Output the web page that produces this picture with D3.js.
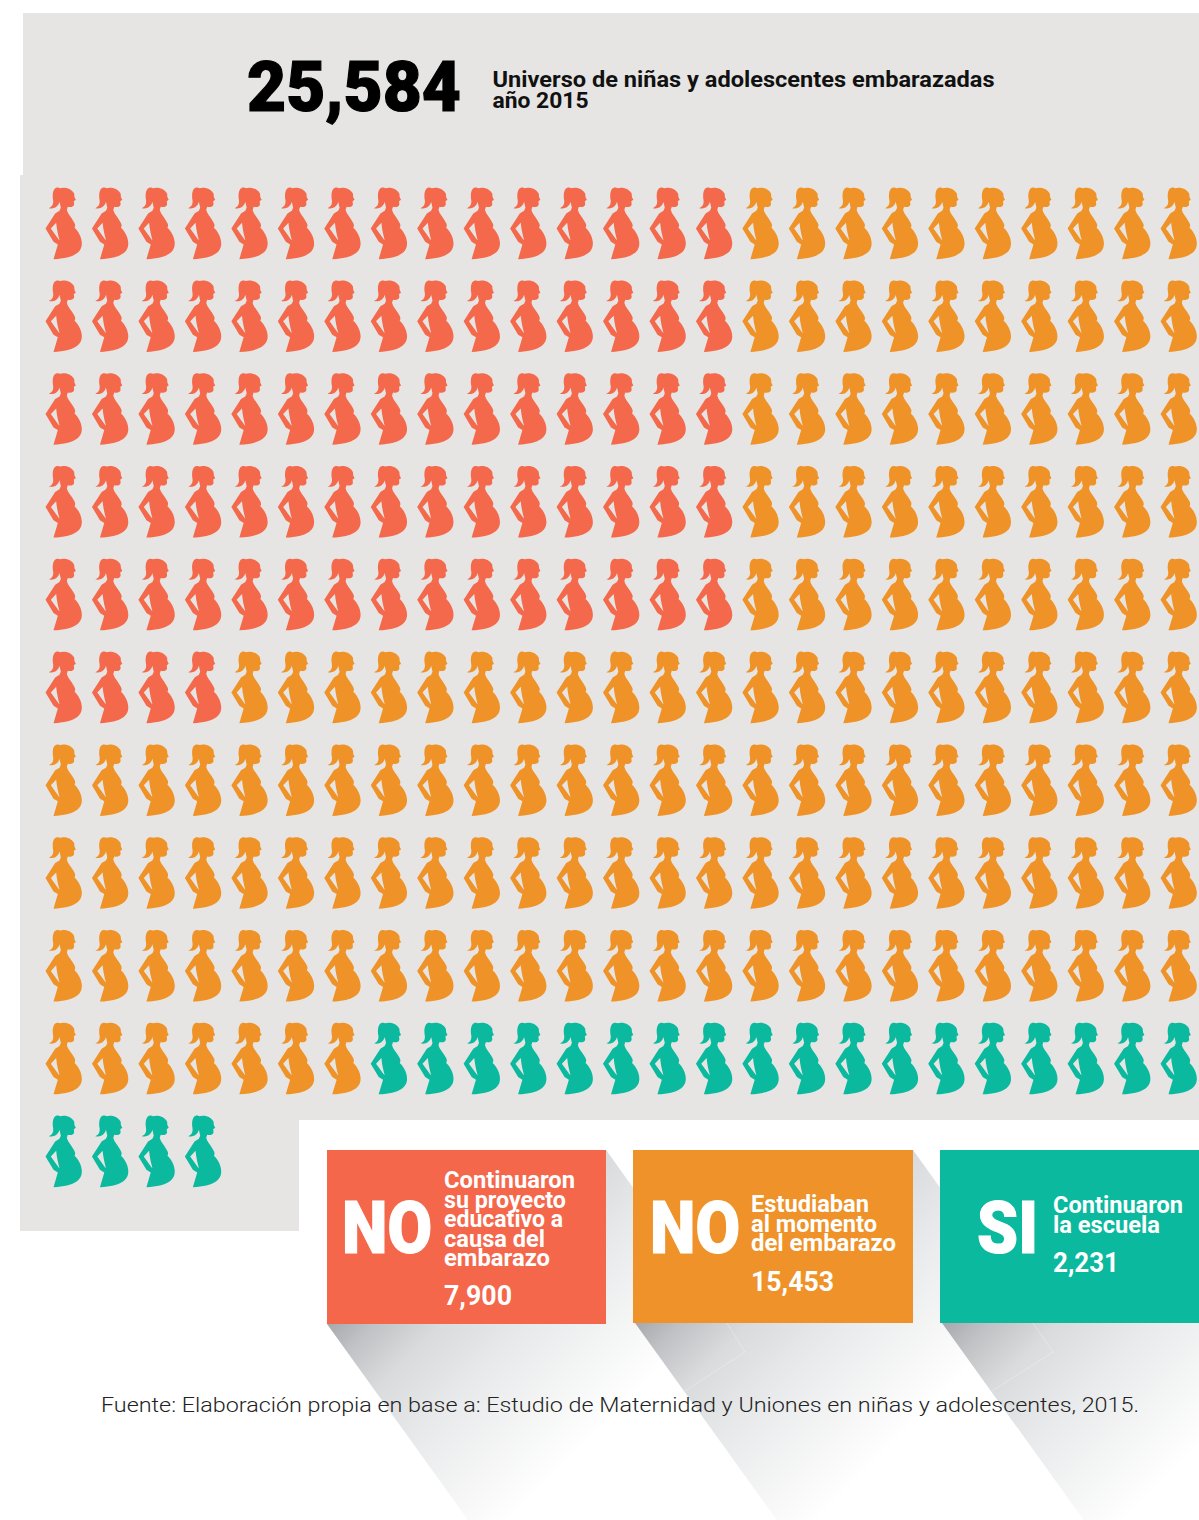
<!DOCTYPE html>
<html>
<head>
<meta charset="utf-8">
<style>
  html, body { margin: 0; padding: 0; background: #fff; }
  svg { display: block; }
  text { font-family: Roboto, sans-serif; }
</style>
<script src="https://cdnjs.cloudflare.com/ajax/libs/d3/7.8.5/d3.min.js"></script>
</head>
<body>
<div id="chart"></div>
<script>
// icons per row of the pictogram
var noContinuaron = [15, 15, 15, 15, 15, 4, 0, 0, 0, 0, 0];
var noEstudiaban = [10, 10, 10, 10, 10, 21, 25, 25, 25, 7, 0];
var siContinuaron = [0, 0, 0, 0, 0, 0, 0, 0, 0, 18, 4];
var seriesNames = ["noContinuaron", "noEstudiaban", "siContinuaron"];
var seriesColors = ["#f4694b", "#ef9328", "#0ab99e"];
var cardColors = ["#f4674b", "#ee9229", "#0ab99e"];
var cardWords = ["NO", "NO", "SI"];
var cardLines = [
  ["Continuaron", "su proyecto", "educativo a", "causa del", "embarazo"],
  ["Estudiaban", "al momento", "del embarazo"],
  ["Continuaron", "la escuela"]
];
var cardValues = ["7,900", "15,453", "2,231"];
var totalLabel = "25,584";
var totalLines = ["Universo de niñas y adolescentes embarazadas", "año 2015"];
var sourceNote = "Fuente: Elaboración propia en base a: Estudio de Maternidad y Uniones en niñas y adolescentes, 2015.";

var width = 1199, height = 1520;
var svg = d3.select("#chart").append("svg").attr("width", width).attr("height", height);
var defs = svg.append("defs");

// silhouette, drawn 3x and scaled down in the join
var womanPath = "M26 6C30 0 38 -1 44 2C54 -2 78 1 86 18L87 29L91 37L85 41L86 51C84 58 76 60 67 58L64 67" +
  "C66 78 76 88 82 98C87 106 92 113 87 121C100 133 109 151 109 168C109 193 89 212 24 215" +
  "L37 171L24 163L0 123L29 78L42 70L46 61L42 43C39 55 29 66 10 62C20 58 26 51 22 33" +
  "C21 22 22 12 26 6Z M16 123L32 106C34 128 38 143 42 158L39 155Z";

// grey panel behind everything
var panel = [[23, 13], [1199, 13], [1199, 1120], [299, 1120], [299, 1231], [20, 1231], [20, 175], [23, 175]];
svg.append("path").attr("d", d3.line()(panel) + "Z").attr("fill", "#e6e5e3");

function fitText(sel, len) {
  // the DIN of the original is narrower, so squeeze each line to its measured width
  return sel.attr("textLength", len).attr("lengthAdjust", "spacingAndGlyphs");
}

// header
fitText(svg.append("text").attr("x", 247).attr("y", 110.5).attr("font-size", 71).attr("font-weight", 900)
  .attr("fill", "#000").attr("stroke", "#000").attr("stroke-width", 1.2).text(totalLabel), 214);
var totalWidths = [502, 96], totalBase = [87, 108];
totalLines.forEach(function (line, i) {
  fitText(svg.append("text").attr("x", 492.5).attr("y", totalBase[i]).attr("font-size", 22).attr("font-weight", 700).attr("fill", "#111").text(line), totalWidths[i]);
});

// pictogram
var rows = d3.range(noContinuaron.length);
var x = d3.scalePoint().domain(d3.range(25)).range([45.5, 1160.5]);
var y = d3.scalePoint().domain(rows).range([187.5, 1115.5]);

var cells = [];
rows.forEach(function (r) {
  var counts = [noContinuaron[r], noEstudiaban[r], siContinuaron[r]];
  var col = 0;
  counts.forEach(function (n, s) {
    d3.range(n).forEach(function () {
      cells.push({ row: r, col: col, series: seriesNames[s] });
      col++;
    });
  });
});
var color = d3.scaleOrdinal().domain(seriesNames).range(seriesColors);

svg.append("g").selectAll("path")
  .data(cells)
  .join("path")
  .attr("d", womanPath)
  .attr("fill-rule", "evenodd")
  .attr("fill", function (d) { return color(d.series); })
  .attr("transform", function (d) { return "translate(" + x(d.col) + "," + y(d.row) + ") scale(0.3333)"; });

// long shadows under the cards
var cardX = [327, 633, 940], cardW = [279, 280, 259], cardBottom = [1324, 1323, 1323];
var shadeStart = [327, 635, 942];
var slope = 1.39;
cardX.forEach(function (cx, i) {
  var sx = shadeStart[i];
  var grad = defs.append("linearGradient").attr("id", "shade" + i)
    .attr("gradientUnits", "userSpaceOnUse")
    .attr("x1", sx).attr("y1", 1324).attr("x2", sx + 190).attr("y2", 1324 + 190);
  [[0, "#a7a8ab"], [0.12, "#c0c1c4"], [0.3, "#dadbdd"], [0.55, "#e9eaeb"], [1, "#ffffff"]].forEach(function (s) {
    grad.append("stop").attr("offset", s[0]).attr("stop-color", s[1]);
  });
  var right = cx + cardW[i];
  var drop = (1520 - cardBottom[i]) / slope;
  var extra = (1520 - 1150) / slope;
  var shape = [[sx, cardBottom[i]], [sx + drop, 1520], [right + extra, 1520], [right, 1150]];
  svg.append("path").attr("d", d3.line()(shape) + "Z").attr("fill", "url(#shade" + i + ")");
});
// faint crease in the last two shadows
[[727, 745, 685], [1033, 1053, 992]].forEach(function (c) {
  svg.append("path")
    .attr("d", "M" + c[0] + " 1323L" + c[1] + " 1352L" + c[2] + " 1391")
    .attr("fill", "none").attr("stroke", "#fff").attr("stroke-opacity", 0.3);
});

// source line sits over the shadows
fitText(svg.append("text").attr("x", 101).attr("y", 1412).attr("font-size", 21).attr("font-weight", 300).attr("fill", "#222").text(sourceNote), 1038);

// cards
var wordX = [342, 650, 977], wordW = [90, 90, 61];
var textX = [444, 751, 1053];
var lineBase = [1188, 1212, 1213];
var lineWidths = [[131, 122, 119, 101, 106], [118, 126, 145], [130, 107]];
var valueBase = [1305, 1291, 1272], valueW = [68, 83, 66];

cardX.forEach(function (cx, i) {
  var g = svg.append("g");
  g.append("rect").attr("x", cx).attr("y", 1150).attr("width", cardW[i]).attr("height", cardBottom[i] - 1150).attr("fill", cardColors[i]);
  fitText(g.append("text").attr("x", wordX[i]).attr("y", 1253).attr("font-size", 72).attr("font-weight", 900)
    .attr("fill", "#fff").attr("stroke", "#fff").attr("stroke-width", 1.2).text(cardWords[i]), wordW[i]);
  cardLines[i].forEach(function (line, j) {
    fitText(g.append("text").attr("x", textX[i]).attr("y", lineBase[i] + j * 19.6).attr("font-size", 23).attr("font-weight", 700).attr("fill", "#fff").text(line), lineWidths[i][j]);
  });
  fitText(g.append("text").attr("x", textX[i]).attr("y", valueBase[i]).attr("font-size", 27).attr("font-weight", 700).attr("fill", "#fff").text(cardValues[i]), valueW[i]);
});
</script>
</body>
</html>
